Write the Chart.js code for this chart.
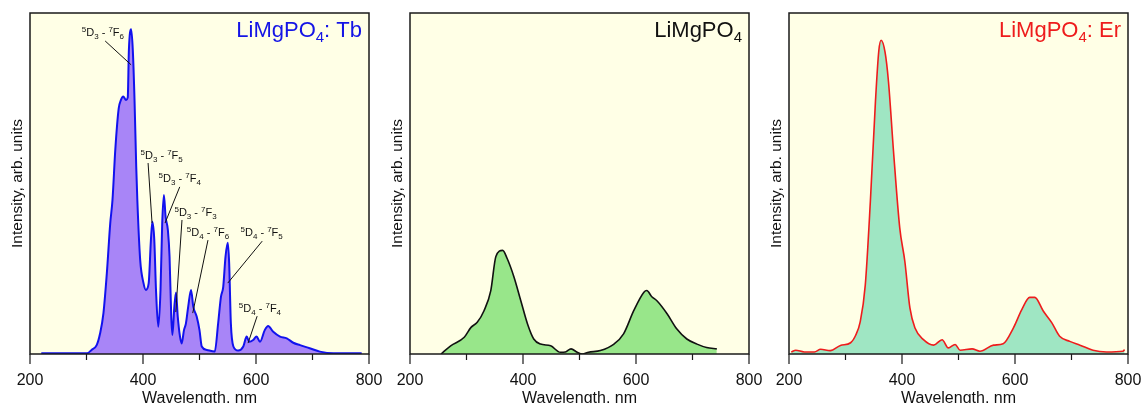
<!DOCTYPE html>
<html>
<head>
<meta charset="utf-8">
<script src="https://cdn.jsdelivr.net/npm/chart.js@4.4.0/dist/chart.umd.min.js"></script>
<style>
  html, body { margin: 0; padding: 0; background: #fff; }
  #wrap { position: relative; width: 1141px; height: 403px; overflow: hidden; }
  #wrap canvas { position: absolute; top: 0; }
</style>
</head>
<body>
<div id="wrap">
  <canvas id="cTb" width="392" height="403" style="left:0px"></canvas>
  <canvas id="cPure" width="392" height="403" style="left:380px"></canvas>
  <canvas id="cEr" width="382" height="403" style="left:759px"></canvas>
</div>
<script>
// axis
const xMajorTicks = [200, 400, 600, 800];
const xMinorTicks = [300, 500, 700];

// LiMgPO4:Tb spectrum
const tbWavelength = [220, 250, 280, 301, 309, 318, 324, 330, 336, 342, 346, 351, 357, 361, 365, 370, 373, 375, 379, 382,
  385, 388, 390, 395, 401, 405, 410, 414, 416.5, 420, 423, 427, 431, 434, 437, 440, 444, 447, 450, 452,
  455.5, 458.5, 461.5, 465.5, 468.5, 472.5, 476, 480, 485, 489, 495, 500, 504, 513, 527, 533, 538, 542, 546, 550,
  552.5, 555.5, 560, 568.5, 577.5, 583.5, 588, 595, 601, 607, 615.5, 621.5, 630.5, 642.5, 654.5, 666, 678, 695, 713, 737, 787];
const tbIntensity = [0.2, 0.2, 0.2, 0.2, 1.2, 2.6, 6, 12, 23.7, 38.3, 45.2, 60, 72, 74.5, 75.5, 74.5, 75.2, 89, 95.2, 89,
  74.5, 55, 45, 27.6, 20.7, 18.8, 20.7, 33.4, 38.8, 33.4, 18.8, 8, 18.8, 38.3, 46.6, 40.2, 36.4, 28.5, 11, 5.6,
  13.9, 18, 11, 5.1, 3.1, 7, 9, 13.9, 18.8, 13.9, 11, 7, 2.2, 1.2, 0.7, 9, 16.8, 19.7, 28.5, 32.6,
  26.6, 9, 2.2, 1, 2.2, 5.1, 3.6, 4.1, 5.1, 3.6, 7, 8.2, 6.5, 5.1, 4.6, 3.3, 2.6, 1.7, 0.7, 0.2, 0.2];

// undoped LiMgPO4
const pureWavelength = [255, 272, 296, 308, 319, 331, 343, 352, 364, 372, 384, 396, 408, 419, 431, 449, 466, 475,
  485, 496, 505, 516, 537, 561, 578, 596, 614, 619, 628, 637, 655, 672, 690, 708, 725, 743];
const pureIntensity = [0, 2.4, 4.9, 7.8, 9.3, 12.7, 18.6, 28.6, 30.4, 28, 22.6, 15.7, 8.8, 4.4, 2.9, 2.4, 0.5, 0.6,
  1.5, 0.5, 0, 0.5, 1, 2.9, 5.9, 12.7, 18.1, 18.6, 16.8, 15.6, 11.8, 7.4, 4.4, 2.9, 1.9, 1.5];

// LiMgPO4:Er
const erWavelength = [204, 212, 227, 245, 256, 273, 291, 309, 318, 326, 335, 344, 353, 359, 363, 370, 376, 385, 396, 405,
  414, 423, 438, 456, 471, 482, 494, 503, 524, 538, 562, 579, 597, 612, 626, 635, 650, 665, 679, 697, 715, 738, 762, 791, 794];
const erIntensity = [0.6, 1.1, 0.6, 0.6, 1.4, 1, 2.5, 3.3, 5.5, 9.4, 20.2, 44.7, 74, 89, 92, 88.5, 80, 59.4, 37, 27.2,
  13.5, 7.6, 4.2, 2.6, 4.2, 1.8, 2.8, 1.1, 1.5, 0.8, 2.6, 3, 7.6, 13, 16.6, 16.6, 12.6, 9.2, 5.2, 3.7, 2.6, 1.1, 0.6, 0.8, 1.3];

// Tb transitions: [upper mult, upper term, upper J, lower mult, lower term, lower J]
const tbTransitions = [
  ['5', 'D', '3', '7', 'F', '6'],
  ['5', 'D', '3', '7', 'F', '5'],
  ['5', 'D', '3', '7', 'F', '4'],
  ['5', 'D', '3', '7', 'F', '3'],
  ['5', 'D', '4', '7', 'F', '6'],
  ['5', 'D', '4', '7', 'F', '5'],
  ['5', 'D', '4', '7', 'F', '4'],
];
const tbLabelX = [329, 433, 465, 493, 515, 610, 607];
const tbLabelY = [94.4, 58.4, 51.6, 41.6, 35.8, 35.8, 13.5];
const tbLeaderFromX = [333, 409, 465, 469, 515, 611, 602];
const tbLeaderFromY = [91.8, 56, 49, 39.3, 33.4, 33.1, 11.1];
const tbLeaderToX = [379, 416, 439, 458, 488, 550, 586];
const tbLeaderToY = [84.8, 38.4, 38.4, 12.3, 12, 20.8, 3.2];

const FONT = "'Liberation Sans', Arial, sans-serif";

// draw text made of [string, 'n'|'sup'|'sub'] pieces
function drawRich(ctx, parts, x, y, align, size, small, supOff, subOff) {
  ctx.textBaseline = 'alphabetic';
  ctx.textAlign = 'left';
  let w = 0;
  parts.forEach(p => {
    ctx.font = (p[1] === 'n' ? size : small) + 'px ' + FONT;
    w += ctx.measureText(p[0]).width;
  });
  let cx = align === 'right' ? x - w : (align === 'center' ? x - w / 2 : x);
  parts.forEach(p => {
    ctx.font = (p[1] === 'n' ? size : small) + 'px ' + FONT;
    const dy = p[1] === 'sup' ? supOff : (p[1] === 'sub' ? subOff : 0);
    ctx.fillText(p[0], cx, y + dy);
    cx += ctx.measureText(p[0]).width;
  });
}

const framePlugin = {
  id: 'frame',
  beforeDraw(chart) {
    const a = chart.chartArea, ctx = chart.ctx;
    ctx.save();
    ctx.fillStyle = '#FFFFE6';
    ctx.fillRect(a.left, a.top, a.right - a.left, a.bottom - a.top);
    ctx.restore();
  },
  afterDraw(chart, args, opts) {
    const a = chart.chartArea, ctx = chart.ctx, xs = chart.scales.x;
    ctx.save();
    ctx.strokeStyle = '#1a1a1a';
    ctx.lineWidth = 1.5;
    ctx.strokeRect(a.left, a.top, a.right - a.left, a.bottom - a.top);
    // tick marks below the axis
    ctx.lineWidth = 1.2;
    ctx.beginPath();
    xMajorTicks.forEach(v => { const px = xs.getPixelForValue(v); ctx.moveTo(px, a.bottom); ctx.lineTo(px, a.bottom + 10); });
    xMinorTicks.forEach(v => { const px = xs.getPixelForValue(v); ctx.moveTo(px, a.bottom); ctx.lineTo(px, a.bottom + 6); });
    ctx.stroke();
    // panel title
    ctx.fillStyle = opts.titleColor;
    drawRich(ctx, opts.title, a.right - 7, a.top + 24, 'right', 22, 15, 0, 5);
    // transition labels
    if (opts.labels) {
      const ys = chart.scales.y;
      ctx.fillStyle = '#111';
      ctx.strokeStyle = '#111';
      ctx.lineWidth = 1;
      opts.labels.forEach((t, i) => {
        const parts = [[t[0], 'sup'], [t[1], 'n'], [t[2], 'sub'], [' - ', 'n'], [t[3], 'sup'], [t[4], 'n'], [t[5], 'sub']];
        drawRich(ctx, parts, xs.getPixelForValue(tbLabelX[i]), ys.getPixelForValue(tbLabelY[i]) + 4, 'center', 11, 8, -4, 3);
        ctx.beginPath();
        ctx.moveTo(xs.getPixelForValue(tbLeaderFromX[i]), ys.getPixelForValue(tbLeaderFromY[i]));
        ctx.lineTo(xs.getPixelForValue(tbLeaderToX[i]), ys.getPixelForValue(tbLeaderToY[i]));
        ctx.stroke();
      });
    }
    ctx.restore();
  }
};

function makePanel(id, wl, inten, lineColor, fillColor, lineWidth, title, titleColor, labels, padRight) {
  const pts = wl.map((w, i) => ({ x: w, y: inten[i] }));
  return new Chart(document.getElementById(id), {
    type: 'line',
    data: {
      datasets: [{
        data: pts,
        borderColor: lineColor,
        backgroundColor: fillColor,
        borderWidth: lineWidth,
        fill: 'origin',
        pointRadius: 0,
        cubicInterpolationMode: 'monotone',
      }],
    },
    options: {
      responsive: false,
      animation: false,
      layout: { padding: { top: 13, right: padRight, bottom: 0, left: 0 } },
      plugins: {
        legend: { display: false },
        tooltip: { enabled: false },
        frame: { title, titleColor, labels },
      },
      scales: {
        x: {
          type: 'linear', min: 200, max: 800,
          grid: { display: false, drawTicks: false },
          border: { display: false },
          ticks: { stepSize: 200, padding: 17, color: '#111', font: { family: FONT, size: 16 } },
          title: { display: true, text: 'Wavelength, nm', color: '#111', padding: 0,
                   font: { family: FONT, size: 16, lineHeight: 0.55 } },
          // keep the plot box where the reference has it, labels may overflow
          afterFit: s => { s.height = 49; s.paddingLeft = 0; s.paddingRight = 0; },
        },
        y: {
          min: 0, max: 100,
          grid: { display: false, drawTicks: false },
          border: { display: false },
          ticks: { display: false },
          title: { display: true, text: 'Intensity, arb. units', color: '#111', padding: { top: 10, bottom: 0 },
                   font: { family: FONT, size: 15.5, lineHeight: 1 } },
          afterFit: s => { s.width = 30; s.paddingTop = 0; s.paddingBottom = 0; },
        },
      },
    },
    plugins: [framePlugin],
  });
}

makePanel('cTb', tbWavelength, tbIntensity, '#1212EE', '#A885F7', 2,
  [['LiMgPO', 'n'], ['4', 'sub'], [': Tb', 'n']], '#1414E6', tbTransitions, 23);
makePanel('cPure', pureWavelength, pureIntensity, '#111', '#98E68A', 1.6,
  [['LiMgPO', 'n'], ['4', 'sub']], '#111', null, 23);
makePanel('cEr', erWavelength, erIntensity, '#EE1C1C', '#9FE6C3', 1.6,
  [['LiMgPO', 'n'], ['4', 'sub'], [': Er', 'n']], '#EE1C1C', null, 13);
</script>
</body>
</html>
